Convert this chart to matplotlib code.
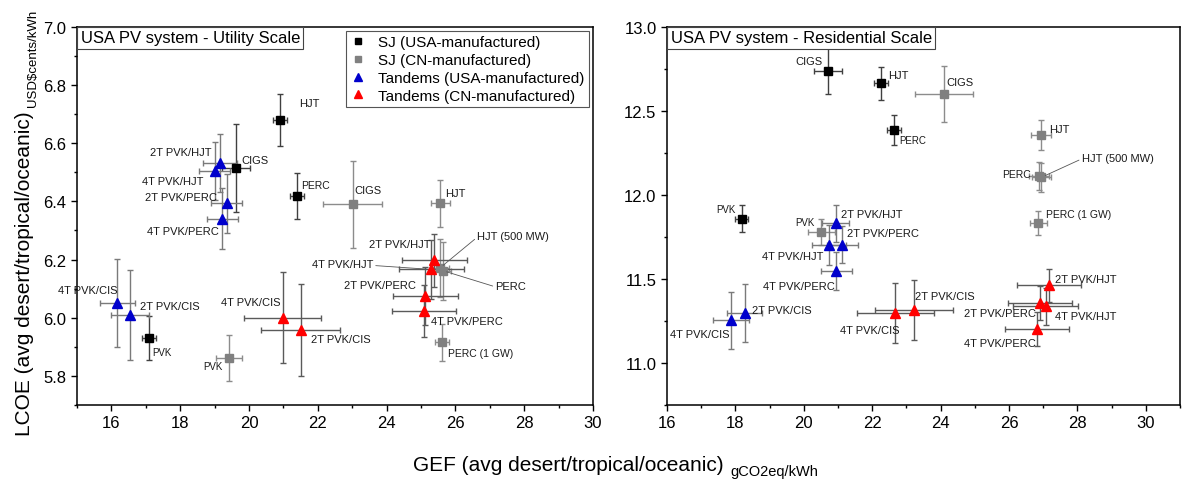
import matplotlib
matplotlib.use("Agg")
import matplotlib.pyplot as plt
from matplotlib.ticker import MultipleLocator

plt.rcParams['font.family'] = ['Liberation Sans', 'DejaVu Sans']

# ---------------- Utility scale ----------------
u_black_names = ['HJT', 'CIGS', 'PERC', 'PVK']
u_black_x = [20.9, 19.63, 21.39, 17.1]
u_black_y = [6.68, 6.515, 6.418, 5.93]
u_black_xerr = [0.2, 0.4, 0.2, 0.2]
u_black_yerr = [0.09, 0.15, 0.08, 0.075]

u_gray_names = ['CIGS', 'HJT', 'HJT (500 MW)', 'PERC', 'PERC (1 GW)', 'PVK']
u_gray_x = [23.01, 25.56, 25.55, 25.63, 25.61, 19.43]
u_gray_y = [6.39, 6.393, 6.171, 6.162, 5.915, 5.861]
u_gray_xerr = [0.85, 0.28, 0.25, 0.25, 0.2, 0.38]
u_gray_yerr = [0.15, 0.08, 0.1, 0.1, 0.065, 0.078]

u_blue_names = ['2T PVK/HJT', '4T PVK/HJT', '2T PVK/PERC', '4T PVK/PERC', '4T PVK/CIS', '2T PVK/CIS']
u_blue_x = [19.16, 19.0, 19.36, 19.23, 16.17, 16.54]
u_blue_y = [6.533, 6.504, 6.393, 6.34, 6.051, 6.008]
u_blue_xerr = [0.49, 0.45, 0.45, 0.46, 0.51, 0.55]
u_blue_yerr = [0.1, 0.1, 0.1, 0.105, 0.15, 0.155]

u_red_names = ['2T PVK/HJT', '4T PVK/HJT', '2T PVK/PERC', '4T PVK/PERC', '4T PVK/CIS', '2T PVK/CIS']
u_red_x = [25.39, 25.3, 25.13, 25.08, 20.98, 21.51]
u_red_y = [6.197, 6.166, 6.074, 6.024, 6.0, 5.959]
u_red_xerr = [0.94, 0.95, 0.94, 0.93, 1.12, 1.15]
u_red_yerr = [0.09, 0.1, 0.1, 0.09, 0.157, 0.158]

# ---------------- Residential scale ----------------
r_black_names = ['CIGS', 'HJT', 'PERC', 'PVK']
r_black_x = [20.72, 22.26, 22.64, 18.18]
r_black_y = [12.739, 12.664, 12.387, 11.858]
r_black_xerr = [0.41, 0.2, 0.2, 0.2]
r_black_yerr = [0.14, 0.1, 0.088, 0.08]

r_gray_names = ['CIGS', 'HJT', 'PERC', 'HJT (500 MW)', 'PERC (1 GW)', 'PVK']
r_gray_x = [24.11, 26.93, 26.87, 26.95, 26.86, 20.51]
r_gray_y = [12.6, 12.355, 12.112, 12.105, 11.834, 11.78]
r_gray_xerr = [0.85, 0.29, 0.29, 0.29, 0.25, 0.39]
r_gray_yerr = [0.166, 0.09, 0.085, 0.085, 0.072, 0.078]

r_blue_names = ['2T PVK/HJT', '2T PVK/PERC', '4T PVK/HJT', '4T PVK/PERC', '2T PVK/CIS', '4T PVK/CIS']
r_blue_x = [20.93, 21.13, 20.73, 20.95, 18.27, 17.87]
r_blue_y = [11.83, 11.704, 11.704, 11.55, 11.297, 11.253]
r_blue_xerr = [0.4, 0.46, 0.49, 0.46, 0.52, 0.52]
r_blue_yerr = [0.11, 0.11, 0.12, 0.113, 0.17, 0.17]

r_red_names = ['4T PVK/CIS', '2T PVK/CIS', '2T PVK/HJT', '2T PVK/PERC', '4T PVK/HJT', '4T PVK/PERC']
r_red_x = [22.68, 23.21, 27.17, 26.91, 27.07, 26.81]
r_red_y = [11.297, 11.316, 11.462, 11.356, 11.336, 11.201]
r_red_xerr = [1.13, 1.14, 0.94, 0.94, 0.94, 0.93]
r_red_yerr = [0.18, 0.18, 0.1, 0.1, 0.11, 0.1]

legend_labels = ['SJ (USA-manufactured)', 'SJ (CN-manufactured)',
                 'Tandems (USA-manufactured)', 'Tandems (CN-manufactured)']

# label placement (offset in points, alignment, font size, leader line)
u_black_lab = [(14, 12.5, 'left', 8, False), (4, 5.5, 'left', 8, False),
               (3, 8, 'left', 7.5, False), (2.5, -10, 'left', 7, False)]
u_gray_lab = [(1.5, 10, 'left', 8, False), (3.6, 7.2, 'left', 8, False),
              (27, 23, 'left', 8, True), (38, -11, 'left', 8, True),
              (4, -7.6, 'left', 7.5, False), (-4.5, -5.3, 'right', 7, False)]
u_blue_lab = [(-6.5, 7.6, 'right', 8, False), (-8, -7, 'right', 8, False),
              (-7, 4.5, 'right', 8, False), (-2.4, -9, 'right', 8, False),
              (0, 9.5, 'right', 8, False), (7, 7, 'left', 8, False)]
u_red_lab = [(-3, 11.5, 'right', 8, False), (-42, 3.6, 'right', 8, True),
             (-6.5, 8, 'right', 8, False), (5, -7.7, 'left', 8, False),
             (-1.7, 11.2, 'right', 8, False), (7, -6.7, 'left', 8, False)]

r_black_lab = [(-4, 7, 'right', 8, False), (5, 6, 'left', 8, False),
               (3.6, -7.2, 'left', 7, False), (-4.3, 6.7, 'right', 7, False)]
r_gray_lab = [(1.2, 9, 'left', 8, False), (6, 4.3, 'left', 8, False),
              (-6, 1.5, 'right', 7.5, False), (29, 14, 'left', 8, True),
              (5.3, 6, 'left', 7.5, False), (-5, 7, 'right', 7, False)]
r_blue_lab = [(4, 7, 'left', 8, False), (3.4, 8.4, 'left', 8, False),
              (-4, -8.4, 'right', 8, False), (-1.2, -10.8, 'right', 8, False),
              (5, 2.4, 'left', 8, False), (-0.7, -9.8, 'right', 8, False)]
r_red_lab = [(3, -12, 'right', 8, False), (1.2, 10.3, 'left', 8, False),
             (4.3, 4.8, 'left', 8, False), (-3, -7.2, 'right', 8, False),
             (6.5, -7.2, 'left', 8, False), (-0.7, -9.6, 'right', 8, False)]


def draw_series(ax, x, y, xerr, yerr, marker, color, ecolor, ms, label):
    ax.errorbar(x, y, xerr=xerr, yerr=yerr, fmt='none', ecolor=ecolor,
                elinewidth=1.0, capsize=2.2, capthick=1.0, zorder=2)
    ax.plot(x, y, linestyle='none', marker=marker, color=color, ms=ms,
            label=label, zorder=3)


def label_points(ax, names, xs, ys, offsets):
    for name, x, y, off in zip(names, xs, ys, offsets):
        dx, dy, ha, size, leader = off
        kw = {}
        if leader:
            rel = (0.0, 0.4) if ha == 'left' else (1.0, 0.4)
            kw['arrowprops'] = dict(arrowstyle='-', color='#555555', lw=0.6,
                                    relpos=rel, shrinkA=0, shrinkB=3)
        ax.annotate(name, xy=(x, y), xytext=(dx, dy), textcoords='offset points',
                    ha=ha, va='center', fontsize=size, color='#1a1a1a',
                    annotation_clip=False, zorder=4, **kw)


def style_axes(ax, title, xlim, ylim, ymaj, ymin):
    ax.set_xlim(*xlim)
    ax.set_ylim(*ylim)
    ax.xaxis.set_major_locator(MultipleLocator(2))
    ax.xaxis.set_minor_locator(MultipleLocator(1))
    ax.yaxis.set_major_locator(MultipleLocator(ymaj))
    ax.yaxis.set_minor_locator(MultipleLocator(ymin))
    ax.tick_params(which='major', direction='out', length=4, width=1, labelsize=12)
    ax.tick_params(which='minor', direction='out', length=2.5, width=1)
    for sp in ax.spines.values():
        sp.set_linewidth(1.1)
    ax.annotate(title, xy=(0, 1), xycoords='axes fraction', xytext=(2.6, -2.4),
                textcoords='offset points', ha='left', va='top', fontsize=12,
                bbox=dict(boxstyle='square,pad=0.2', fc='white', ec='#444444', lw=0.8),
                zorder=6)


fig = plt.figure(figsize=(11.82, 4.81), dpi=100)
ax1 = fig.add_axes([0.0651, 0.156, 0.4366, 0.786])
ax2 = fig.add_axes([0.5643, 0.156, 0.434, 0.786])

# utility panel
draw_series(ax1, u_black_x, u_black_y, u_black_xerr, u_black_yerr, 's', 'black', '#404040', 5.5, legend_labels[0])
draw_series(ax1, u_gray_x, u_gray_y, u_gray_xerr, u_gray_yerr, 's', '#808080', '#8c8c8c', 5.5, legend_labels[1])
draw_series(ax1, u_blue_x, u_blue_y, u_blue_xerr, u_blue_yerr, '^', '#0000cc', '#7a7a7a', 7, legend_labels[2])
draw_series(ax1, u_red_x, u_red_y, u_red_xerr, u_red_yerr, '^', '#ff0000', '#5a5a5a', 7, legend_labels[3])
label_points(ax1, u_black_names, u_black_x, u_black_y, u_black_lab)
label_points(ax1, u_gray_names, u_gray_x, u_gray_y, u_gray_lab)
label_points(ax1, u_blue_names, u_blue_x, u_blue_y, u_blue_lab)
label_points(ax1, u_red_names, u_red_x, u_red_y, u_red_lab)
style_axes(ax1, 'USA PV system - Utility Scale', (15, 30), (5.7, 7.0), 0.2, 0.1)
leg = ax1.legend(loc='upper right', fontsize=11, frameon=True, fancybox=False,
                 edgecolor='#555555', framealpha=1, borderaxespad=0.25,
                 handlelength=1.0, handletextpad=0.8, labelspacing=0.25,
                 borderpad=0.3, markerscale=0.9)
leg.get_frame().set_linewidth(0.8)

# residential panel
draw_series(ax2, r_black_x, r_black_y, r_black_xerr, r_black_yerr, 's', 'black', '#404040', 5.5, legend_labels[0])
draw_series(ax2, r_gray_x, r_gray_y, r_gray_xerr, r_gray_yerr, 's', '#808080', '#8c8c8c', 5.5, legend_labels[1])
draw_series(ax2, r_blue_x, r_blue_y, r_blue_xerr, r_blue_yerr, '^', '#0000cc', '#7a7a7a', 7, legend_labels[2])
draw_series(ax2, r_red_x, r_red_y, r_red_xerr, r_red_yerr, '^', '#ff0000', '#5a5a5a', 7, legend_labels[3])
label_points(ax2, r_black_names, r_black_x, r_black_y, r_black_lab)
label_points(ax2, r_gray_names, r_gray_x, r_gray_y, r_gray_lab)
label_points(ax2, r_blue_names, r_blue_x, r_blue_y, r_blue_lab)
label_points(ax2, r_red_names, r_red_x, r_red_y, r_red_lab)
style_axes(ax2, 'USA PV system - Residential Scale', (16, 31), (10.75, 13.0), 0.5, 0.25)

# axis labels with small unit "subscripts"
xl = fig.text(0.349, 0.0208, 'GEF (avg desert/tropical/oceanic)', fontsize=15,
              ha='left', va='baseline')
ax1.annotate('gCO2eq/kWh', xy=(1, 0), xycoords=xl, xytext=(5, -3),
             textcoords='offset points', ha='left', va='bottom', fontsize=10.5,
             annotation_clip=False)
yl = fig.text(0.0125, 0.094, 'LCOE (avg desert/tropical/oceanic)', fontsize=15,
              rotation=90, ha='left', va='bottom')
ax1.annotate('USD\\$cents/kWh', xy=(1, 1), xycoords=yl, xytext=(4, 3),
             textcoords='offset points', ha='right', va='bottom', fontsize=9.5,
             rotation=90, annotation_clip=False)

fig.savefig('out.png', dpi=100)
